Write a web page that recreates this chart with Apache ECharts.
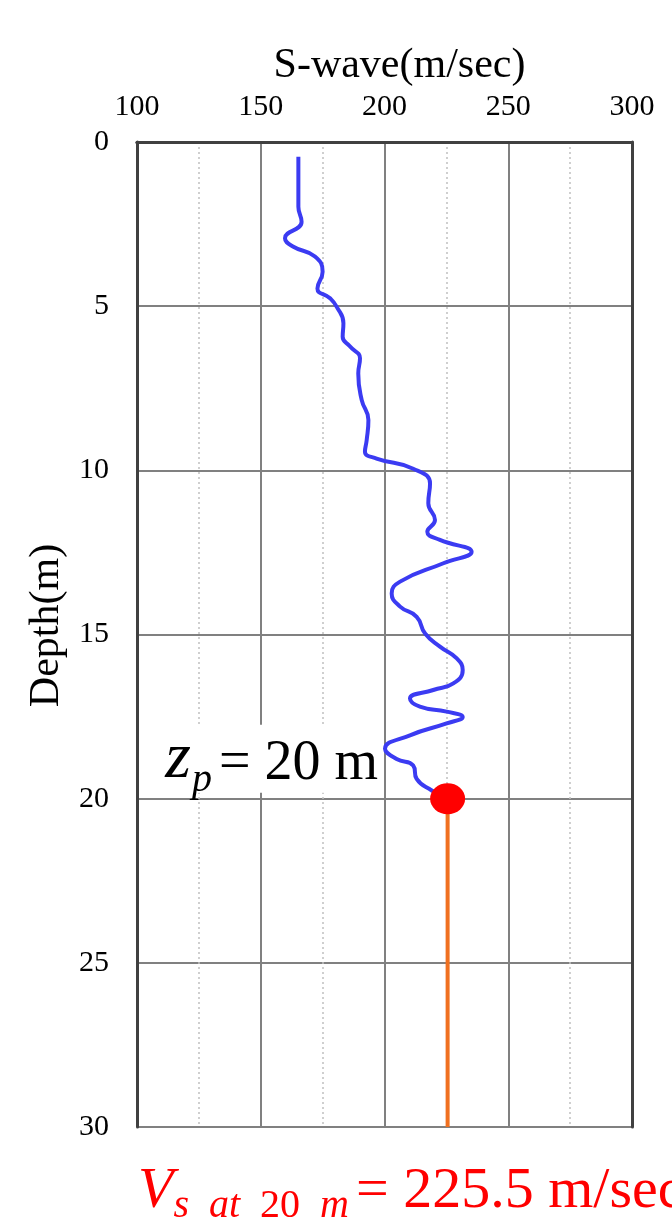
<!DOCTYPE html>
<html>
<head>
<meta charset="utf-8">
<script src="https://cdn.jsdelivr.net/npm/echarts@6/dist/echarts.min.js"></script>
<style>html,body{margin:0;padding:0;background:#fff}#c{width:672px;height:1220px}</style>
</head>
<body>
<div id="c"></div>
<script>
// S-wave velocity (m/s) vs depth (m)
const velocity = [165.2,165.2,166.5,159.8,163.2,171.9,175.0,172.9,178.0,180.7,183.4,183.1,186.1,190.1,189.4,190.8,193.5,192.8,192.1,196.8,211.6,218.4,217.7,220.4,217.3,222.4,235.2,223.8,206.3,202.9,206.3,213.0,216.4,222.4,229.2,231.6,227.8,219.7,210.3,214.3,225.1,231.6,225.1,210.3,200.2,204.9,211.6,213.0,219.1,225.5];
const depth    = [0.45,1.97,2.43,2.93,3.19,3.49,3.95,4.46,4.76,5.02,5.52,5.93,6.23,6.59,7.05,7.86,8.47,9.08,9.43,9.64,9.95,10.4,11.0,11.51,11.87,12.12,12.48,12.83,13.39,13.75,14.15,14.46,14.97,15.37,15.73,16.08,16.49,16.69,16.95,17.2,17.35,17.51,17.71,18.07,18.48,18.79,18.99,19.4,19.75,20.0];
const zp = 20;
const vsAtZp = 225.5;
const bottomDepth = 30;
const xTicks = [100,150,200,250,300];
const yTicks = [0,5,10,15,20,25,30];

const profile = velocity.map((v,i)=>[v, depth[i]]);
const serif = '"Liberation Serif","DejaVu Serif",serif';

const chart = echarts.init(document.getElementById('c'));
chart.setOption({
  animation:false,
  backgroundColor:'#fff',
  grid:{left:137, top:142, width:495, height:985, show:false},
  xAxis:[{
    type:'value', position:'top', min:xTicks[0], max:xTicks[xTicks.length-1], interval:50,
    name:'S-wave(m/sec)', nameLocation:'middle', nameGap:51,
    nameTextStyle:{fontFamily:serif, fontSize:42, color:'#000', padding:[0,0,0,30]},
    axisLine:{show:true, lineStyle:{color:'#404040', width:3}},
    axisTick:{show:false},
    axisLabel:{fontFamily:serif, fontSize:30, color:'#000', margin:20},
    splitLine:{show:true, lineStyle:{color:'#808080', width:2}},
    minorTick:{show:false, splitNumber:2},
    minorSplitLine:{show:true, lineStyle:{color:'#c0c0c0', width:1.5, type:[2,3]}}
  },{
    type:'value', position:'bottom', min:100, max:300, interval:50,
    axisLine:{show:true, lineStyle:{color:'#404040', width:3}},
    axisTick:{show:false}, axisLabel:{show:false}, splitLine:{show:false}
  }],
  yAxis:[{
    type:'value', inverse:true, min:yTicks[0], max:yTicks[yTicks.length-1], interval:5,
    name:'Depth(m)', nameLocation:'middle', nameGap:62, nameRotate:90,
    nameTextStyle:{fontFamily:serif, fontSize:42, color:'#000', padding:[0,0,0,18]},
    axisLine:{show:true, lineStyle:{color:'#404040', width:3}},
    axisTick:{show:false},
    axisLabel:{fontFamily:serif, fontSize:30, color:'#000', margin:28},
    splitLine:{show:true, lineStyle:{color:'#808080', width:2}}
  },{
    type:'value', inverse:true, position:'right', min:0, max:30, interval:5,
    axisLine:{show:true, lineStyle:{color:'#404040', width:3}},
    axisTick:{show:false}, axisLabel:{show:false}, splitLine:{show:false}
  }],
  series:[{
    type:'line', data:profile, smooth:0.5, showSymbol:false,
    lineStyle:{color:'#3b3bf2', width:4}, z:3
  },{
    type:'line', data:[[vsAtZp, zp],[vsAtZp, bottomDepth]], showSymbol:false,
    lineStyle:{color:'#f07020', width:4}, z:2
  },{
    type:'scatter', data:[[vsAtZp, zp]], symbol:'circle', symbolSize:[35,31],
    itemStyle:{color:'#ff0000', opacity:1}, z:4,
    label:{show:true, position:'left', distance:52, offset:[0,-40],
      backgroundColor:'#fff', padding:[2,0,0,0],
      formatter:'{z|z}{p|p}{t|= 20 m}',
      rich:{
        z:{fontFamily:serif, fontStyle:'italic', fontSize:66, color:'#000', verticalAlign:'bottom'},
        p:{fontFamily:serif, fontStyle:'italic', fontSize:40, color:'#000', padding:[0,7,-8,1], verticalAlign:'bottom'},
        t:{fontFamily:serif, fontSize:56, color:'#000', verticalAlign:'bottom'}
      }}
  }],
  graphic:[{
    type:'text', left:138, top:1163,
    style:{
      text:'{v|V}{s|s\u2002at\u2002}{n|20}{s|\u2002m}{t|= 225.5 m/sec}',
      rich:{
        v:{fontFamily:serif, fontStyle:'italic', fontSize:58, fill:'#ff0000', verticalAlign:'bottom'},
        s:{fontFamily:serif, fontStyle:'italic', fontSize:40, fill:'#ff0000', padding:[0,0,-5,0], verticalAlign:'bottom'},
        n:{fontFamily:serif, fontSize:40, fill:'#ff0000', padding:[0,0,-5,0], verticalAlign:'bottom'},
        t:{fontFamily:serif, fontSize:58, fill:'#ff0000', padding:[0,0,0,7], verticalAlign:'bottom'}
      }
    }
  }]
});
</script>
</body>
</html>
